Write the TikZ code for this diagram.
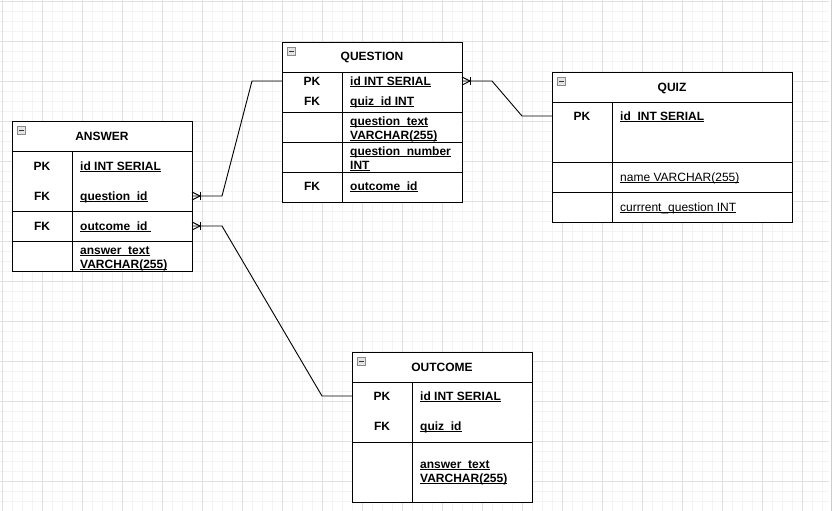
\documentclass[tikz,border=0pt]{standalone}
\usepackage{fontspec}
\setmainfont{Liberation Sans}
\newsavebox{\ulbox}
\newcommand{\myul}[1]{\sbox{\ulbox}{#1}\rlap{\rule[-1.7pt]{\wd\ulbox}{0.8pt}}\usebox{\ulbox}}
\definecolor{gridminor}{HTML}{F3F3F3}
\definecolor{gridmajor}{HTML}{E0E0E0}
\definecolor{icongray}{HTML}{8A8A8A}
\definecolor{iconfill}{HTML}{E4E4E4}
\tikzset{
  tbl/.style={draw=black, fill=white, line width=0.9pt, inner sep=0pt, anchor=north west},
  sep/.style={draw=black, line width=0.9pt},
  hdr/.style={font=\fontsize{12}{14}\selectfont\bfseries, anchor=base, inner sep=0pt},
  key/.style={font=\fontsize{12}{14}\selectfont\bfseries, anchor=base, inner sep=0pt},
  fld/.style={font=\fontsize{12}{14}\selectfont\bfseries, anchor=base west, inner sep=0pt},
  fldn/.style={font=\fontsize{12}{14}\selectfont, anchor=base west, inner sep=0pt},
  conn/.style={draw=black, line width=0.9pt},
  iconbox/.style={draw=icongray, fill=iconfill, line width=0.6pt, minimum width=8pt, minimum height=8pt, inner sep=0pt, anchor=north west},
}
\newcommand{\tblicon}[2]{%
  \node[iconbox] (#1) at (#2) {};
  \draw[black!80, line width=0.9pt] ([xshift=-2.3pt]#1.center) -- ([xshift=2.3pt]#1.center);
}
\newcommand{\crowfoot}[1]{%
  \draw[conn] ([yshift=-4pt]#1) -- ([xshift=8pt]#1) -- ([yshift=4pt]#1);
  \draw[conn] ([xshift=8pt,yshift=-4pt]#1) -- ([xshift=8pt,yshift=4pt]#1);
}
\begin{document}
\begin{tikzpicture}[x=1pt, y=-1pt]
\useasboundingbox (0,0) rectangle (835,511);
\fill[white] (0,0) rectangle (835,511);
% grid
\foreach \gx in {2,12,...,822} \draw[gridminor, line width=0.8pt] (\gx,0) -- (\gx,511);
\foreach \gy in {1,11,...,511} \draw[gridminor, line width=0.8pt] (0,\gy) -- (829,\gy);
\foreach \gx in {2,42,...,822} \draw[gridmajor, line width=0.8pt] (\gx,0) -- (\gx,511);
\foreach \gy in {1,41,...,511} \draw[gridmajor, line width=0.8pt] (0,\gy) -- (829,\gy);
\fill[white] (829.5,0) rectangle (835,511);
\draw[gray!40, line width=0.8pt] (831,0) -- (831,511);

% ---------- ANSWER ----------
\node[tbl, minimum width=180pt, minimum height=150pt] (answer) at (12,121) {};
\draw[sep] (12,151) -- (192,151);
\draw[sep] (12,211) -- (192,211);
\draw[sep] (12,241) -- (192,241);
\draw[sep] (72,151) -- (72,271);
\tblicon{ansicon}{17,126}
\node[hdr] (anshdr) at (102,140) {ANSWER};
\node[key] (anspk) at (42,170) {PK};
\node[key] (ansfk1) at (42,200) {FK};
\node[key] (ansfk2) at (42,230) {FK};
\node[fld] (ansid) at (80,170) {\myul{id INT SERIAL}};
\node[fld] (ansqid) at (80,200) {\myul{question\_id}};
\node[fld] (ansoid) at (80,230) {\myul{outcome\_id\ }};
\node[fld] (anstxt1) at (80,254) {\myul{answer\_text}};
\node[fld] (anstxt2) at (80,268) {\myul{VARCHAR(255)}};
\coordinate (ansQ) at (192,196);
\coordinate (ansO) at (192,226);

% ---------- QUESTION ----------
\node[tbl, minimum width=180pt, minimum height=160pt] (question) at (282,42) {};
\draw[sep] (282,72) -- (462,72);
\draw[sep] (282,112) -- (462,112);
\draw[sep] (282,142) -- (462,142);
\draw[sep] (282,172) -- (462,172);
\draw[sep] (342,72) -- (342,202);
\tblicon{qicon}{287,47}
\node[hdr] (qhdr) at (372,61) {QUESTION};
\node[key] (qpk) at (312,85) {PK};
\node[key] (qfk1) at (312,105) {FK};
\node[key] (qfk2) at (312,190) {FK};
\node[fld] (qid) at (350,85) {\myul{id INT SERIAL}};
\node[fld] (qquiz) at (350,105) {\myul{quiz\_id INT}};
\node[fld] (qtxt1) at (350,125) {\myul{question\_text}};
\node[fld] (qtxt2) at (350,139) {\myul{VARCHAR(255)}};
\node[fld] (qnum1) at (350,155) {\myul{question\_number}};
\node[fld] (qnum2) at (350,169) {\myul{INT}};
\node[fld] (qoid) at (350,190) {\myul{outcome\_id}};
\coordinate (qW) at (282,81);
\coordinate (qE) at (462,81);

% ---------- QUIZ ----------
\node[tbl, minimum width=240pt, minimum height=150pt] (quiz) at (552,72) {};
\draw[sep] (552,102) -- (792,102);
\draw[sep] (552,162) -- (792,162);
\draw[sep] (552,192) -- (792,192);
\draw[sep] (612,102) -- (612,222);
\tblicon{zicon}{557,77}
\node[hdr] (zhdr) at (672,91) {QUIZ};
\node[key] (zpk) at (582,120) {PK};
\node[fld] (zid) at (620,120) {\myul{id\ \ INT SERIAL}};
\node[fldn] (zname) at (620,181) {\myul{name VARCHAR(255)}};
\node[fldn] (zcur) at (620,211) {\myul{currrent\_question INT}};
\coordinate (zW) at (552,116);

% ---------- OUTCOME ----------
\node[tbl, minimum width=180pt, minimum height=150pt] (outcome) at (352,352) {};
\draw[sep] (352,382) -- (532,382);
\draw[sep] (352,442) -- (532,442);
\draw[sep] (412,382) -- (412,502);
\tblicon{oicon}{357,357}
\node[hdr] (ohdr) at (442,371) {OUTCOME};
\node[key] (opk) at (382,400) {PK};
\node[key] (ofk) at (382,430) {FK};
\node[fld] (oid) at (420,400) {\myul{id INT SERIAL}};
\node[fld] (oquiz) at (420,430) {\myul{quiz\_id}};
\node[fld] (otxt1) at (420,468) {\myul{answer\_text}};
\node[fld] (otxt2) at (420,482) {\myul{VARCHAR(255)}};
\coordinate (oW) at (352,396);

% ---------- connectors ----------
\draw[conn] (ansQ) -- ([xshift=30pt]ansQ) -- ([xshift=-30pt]qW) -- (qW);
\crowfoot{ansQ}
\draw[conn] (ansO) -- ([xshift=30pt]ansO) -- ([xshift=-30pt]oW) -- (oW);
\crowfoot{ansO}
\draw[conn] (qE) -- ([xshift=30pt]qE) -- ([xshift=-30pt]zW) -- (zW);
\crowfoot{qE}
\end{tikzpicture}
\end{document}
